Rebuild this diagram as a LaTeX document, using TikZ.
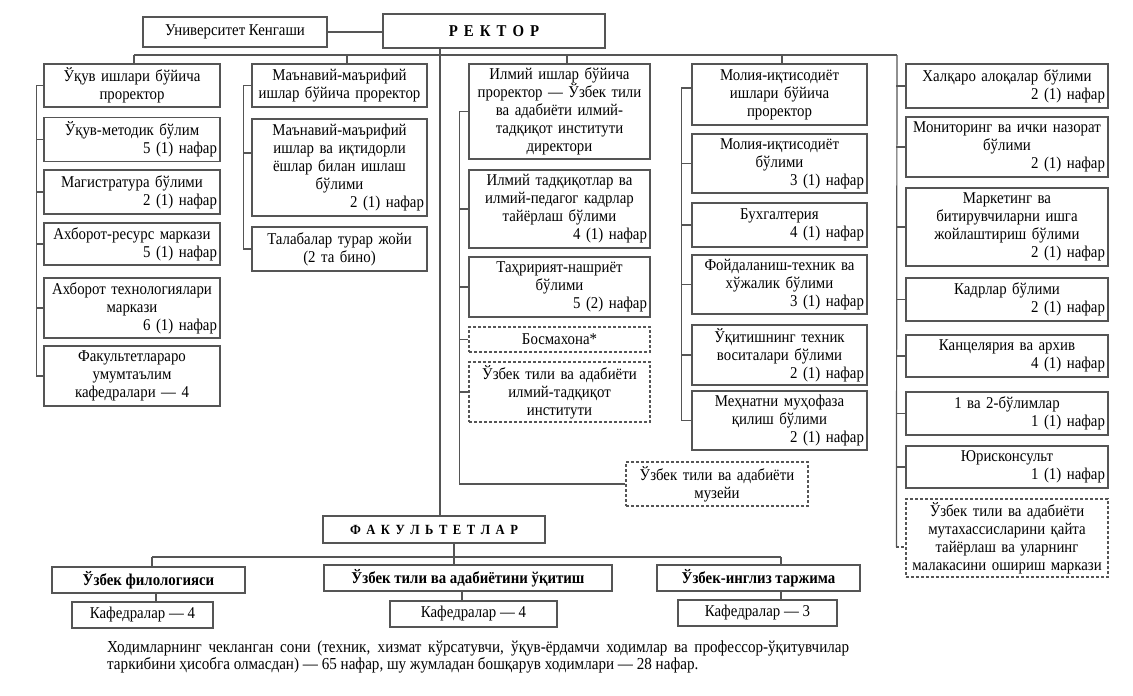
\documentclass[tikz,border=0pt]{standalone}
\usepackage{fontspec}
\setmainfont{Liberation Serif}[FakeStretch=0.9]
\definecolor{linec}{RGB}{85,85,85}
\newcommand\bx{\fontsize{16.5}{18}\selectfont}
\newcommand\fn{\fontsize{16.8}{15}\selectfont}
\newcommand\nf[1]{\\\hspace*{\fill}#1 нафар}
\tikzset{
  box/.style={draw=linec, line width=1.2pt, align=center, inner sep=3pt, font=\bx, text=black},
  dbox/.style={box, dash pattern=on 3pt off 2pt},
  link/.style={draw=linec, line width=1.2pt},
  w1/.style={minimum width=176pt, text width=170pt},
  w2/.style={minimum width=175pt, text width=169pt},
  w3/.style={minimum width=181pt, text width=175pt},
  w4/.style={minimum width=175pt, text width=169pt},
  w5/.style={minimum width=202pt, text width=196pt},
  bold/.style={font=\bx\bfseries}
}
\begin{document}
\begin{tikzpicture}[x=1pt,y=-1pt]
\useasboundingbox (0,0) rectangle (1133,696);

% top
\node[box, minimum width=184pt, minimum height=30pt] (univ) at (235,32) {Университет Кенгаши};
\node[box, bold, minimum width=222pt, minimum height=34pt] (rector) at (494,31) {Р\kern6pt Е\kern6pt К\kern6pt Т\kern6pt О\kern6pt Р};

% column 1
\node[box,w1,minimum height=43pt] (c1a) at (132,85.5) {Ўқув ишлари бўйича\\проректор};
\node[box,w1,minimum height=44pt] (c1b) at (132,139.5) {Ўқув-методик бўлим\nf{5 (1)}};
\node[box,w1,minimum height=44pt] (c1c) at (132,192) {Магистратура бўлими\nf{2 (1)}};
\node[box,w1,minimum height=42pt] (c1d) at (132,244) {Ахборот-ресурс маркази\nf{5 (1)}};
\node[box,w1,minimum height=60pt] (c1e) at (132,308) {Ахборот технологиялари\\маркази\nf{6 (1)}};
\node[box,w1,minimum height=60pt] (c1f) at (132,376) {Факультетлараро\\умумтаълим\\кафедралари — 4};

% column 2
\node[box,w2,minimum height=43pt] (c2a) at (339.5,85.5) {Маънавий-маърифий\\ишлар бўйича проректор};
\node[box,w2,minimum height=97pt] (c2b) at (339.5,167.5) {Маънавий-маърифий\\ишлар ва иқтидорли\\ёшлар билан ишлаш\\бўлими\nf{2 (1)}};
\node[box,w2,minimum height=44pt] (c2c) at (339.5,249) {Талабалар турар жойи\\(2 та бино)};

% column 3
\node[box,w3,minimum height=95pt] (c3a) at (559.5,111.5) {Илмий ишлар бўйича\\проректор — Ўзбек тили\\ва адабиёти илмий-\\тадқиқот институти\\директори};
\node[box,w3,minimum height=78pt] (c3b) at (559.5,209) {Илмий тадқиқотлар ва\\илмий-педагог кадрлар\\тайёрлаш бўлими\nf{4 (1)}};
\node[box,w3,minimum height=60pt] (c3c) at (559.5,287) {Таҳририят-нашриёт\\бўлими\nf{5 (2)}};
\node[dbox,w3,minimum height=25pt] (c3d) at (559.5,339.5) {Босмахона*};
\node[dbox,w3,minimum height=60pt] (c3e) at (559.5,392) {Ўзбек тили ва адабиёти\\илмий-тадқиқот\\институти};
\node[dbox,minimum width=182pt,text width=176pt,minimum height=44pt] (mus) at (717,484) {Ўзбек тили ва адабиёти\\музейи};

% column 4
\node[box,w4,minimum height=61pt] (c4a) at (779.5,94.5) {Молия-иқтисодиёт\\ишлари бўйича\\проректор};
\node[box,w4,minimum height=59pt] (c4b) at (779.5,163.5) {Молия-иқтисодиёт\\бўлими\nf{3 (1)}};
\node[box,w4,minimum height=44pt] (c4c) at (779.5,225) {Бухгалтерия\nf{4 (1)}};
\node[box,w4,minimum height=59pt] (c4d) at (779.5,284.5) {Фойдаланиш-техник ва\\хўжалик бўлими\nf{3 (1)}};
\node[box,w4,minimum height=60pt] (c4e) at (779.5,355) {Ўқитишнинг техник\\воситалари бўлими\nf{2 (1)}};
\node[box,w4,minimum height=59pt] (c4f) at (779.5,420.5) {Меҳнатни муҳофаза\\қилиш бўлими\nf{2 (1)}};

% column 5
\node[box,w5,minimum height=44pt] (c5a) at (1007,86) {Халқаро алоқалар бўлими\nf{2 (1)}};
\node[box,w5,minimum height=60pt] (c5b) at (1007,147) {Мониторинг ва ички назорат\\бўлими\nf{2 (1)}};
\node[box,w5,minimum height=78pt] (c5c) at (1007,227) {Маркетинг ва\\битирувчиларни ишга\\жойлаштириш бўлими\nf{2 (1)}};
\node[box,w5,minimum height=43pt] (c5d) at (1007,299.5) {Кадрлар бўлими\nf{2 (1)}};
\node[box,w5,minimum height=42pt] (c5e) at (1007,356) {Канцелярия ва архив\nf{4 (1)}};
\node[box,w5,minimum height=43pt] (c5f) at (1007,413.5) {1 ва 2-бўлимлар\nf{1 (1)}};
\node[box,w5,minimum height=42pt] (c5g) at (1007,467) {Юрисконсульт\nf{1 (1)}};
\node[dbox,w5,minimum height=78pt] (c5h) at (1007,538) {Ўзбек тили ва адабиёти\\мутахассисларини қайта\\тайёрлаш ва уларнинг\\малакасини ошириш маркази};

% faculties
\node[box, bold, font=\fontsize{14}{15}\selectfont\bfseries, minimum width=222pt, minimum height=27pt] (fak) at (434,529.5) {Ф\kern5.5pt А\kern5.5pt К\kern5.5pt У\kern5.5pt Л\kern5.5pt Ь\kern5.5pt Т\kern5.5pt Е\kern5.5pt Т\kern5.5pt Л\kern5.5pt А\kern5.5pt Р};
\node[box, bold, minimum width=193pt, minimum height=26pt] (f1) at (148.5,580) {Ўзбек филологияси};
\node[box, bold, minimum width=288pt, minimum height=26pt] (f2) at (468,578) {Ўзбек тили ва адабиётини ўқитиш};
\node[box, bold, minimum width=203pt, minimum height=26pt] (f3) at (758.5,578) {Ўзбек-инглиз таржима};
\node[box, minimum width=141pt, minimum height=26pt] (k1) at (142.5,615) {Кафедралар — 4};
\node[box, minimum width=167pt, minimum height=26pt] (k2) at (473.5,614) {Кафедралар — 4};
\node[box, minimum width=159pt, minimum height=26pt] (k3) at (757.5,613) {Кафедралар — 3};

% note
\node[anchor=north west, inner sep=0pt, text width=742pt, align=justify, font=\fn] (note) at (107,641) {Ходимларнинг чекланган сони (техник, хизмат кўрсатувчи, ўқув-ёрдамчи ходимлар ва профессор-ўқитувчилар\linebreak таркибини ҳисобга олмасдан) — 65 нафар, шу жумладан бошқарув ходимлари — 28 нафар.};

% coordinates
\coordinate (tk) at (440,0);
\coordinate (b1) at (134,55);
\coordinate (b2) at (347,55);
\coordinate (b3) at (567,55);
\coordinate (b4) at (782,55);
\coordinate (b5) at (897,55);
\coordinate (fbl) at (152,557);
\coordinate (fbm) at (454,557);
\coordinate (fbr) at (781,557);
\coordinate (kx1) at (156,0);
\coordinate (kx2) at (462,0);
\coordinate (kx3) at (781,0);

% top connectors
\draw[link] (univ.east) -- (univ.east -| rector.west);
\draw[link] (rector.south -| tk) -- (fak.north -| tk);
\draw[link] (b1) -- (b5);
\draw[link] (b1) -- (b1 |- c1a.north);
\draw[link] (b2) -- (b2 |- c2a.north);
\draw[link] (b3) -- (b3 |- c3a.north);
\draw[link] (b4) -- (b4 |- c4a.north);

% column 1 spine
\draw[link] ([xshift=-7pt]c1a.west) -- ([xshift=-7pt]c1f.west);
\foreach \n in {c1a,c1b,c1c,c1d,c1e,c1f} \draw[link] (\n.west) -- ++(-7,0);

% column 2 spine
\draw[link] ([xshift=-8pt]c2a.west) -- ([xshift=-8pt]c2c.west);
\draw[link] (c2a.west) -- ++(-8,0);
\draw[link] ([yshift=14.5pt]c2b.west) -- ++(-8,0);
\draw[link] (c2c.west) -- ++(-8,0);

% column 3 spine
\draw[link] ([xshift=-9pt]c3a.west) |- (mus.west);
\foreach \n in {c3a,c3b,c3c,c3d,c3e} \draw[link] (\n.west) -- ++(-9,0);

% column 4 spine
\draw[link] ([xshift=-10pt,yshift=6.5pt]c4a.west) -- ([xshift=-10pt]c4f.west);
\draw[link] ([yshift=6.5pt]c4a.west) -- ++(-10,0);
\foreach \n in {c4b,c4c,c4d,c4e,c4f} \draw[link] (\n.west) -- ++(-10,0);

% column 5 spine
\coordinate (s5) at ([xshift=-9pt,yshift=-9pt]c5h.west);
\draw[link] (b5) -- (s5);
\foreach \n in {c5a,c5b,c5c,c5d,c5e,c5f,c5g} \draw[link] (\n.west) -- ++(-9,0);
\draw[link, dash pattern=on 3pt off 2pt] (s5) -- ([yshift=-9pt]c5h.west);

% faculties connectors
\draw[link] (fbl) -- (fbr);
\draw[link] (fbl) -- (fbl |- f1.north);
\draw[link] (fak.south -| fbm) -- (fbm |- f2.north);
\draw[link] (fbr) -- (fbr |- f3.north);
\draw[link] (f1.south -| kx1) -- (k1.north -| kx1);
\draw[link] (f2.south -| kx2) -- (k2.north -| kx2);
\draw[link] (f3.south -| kx3) -- (k3.north -| kx3);
\end{tikzpicture}
\end{document}
